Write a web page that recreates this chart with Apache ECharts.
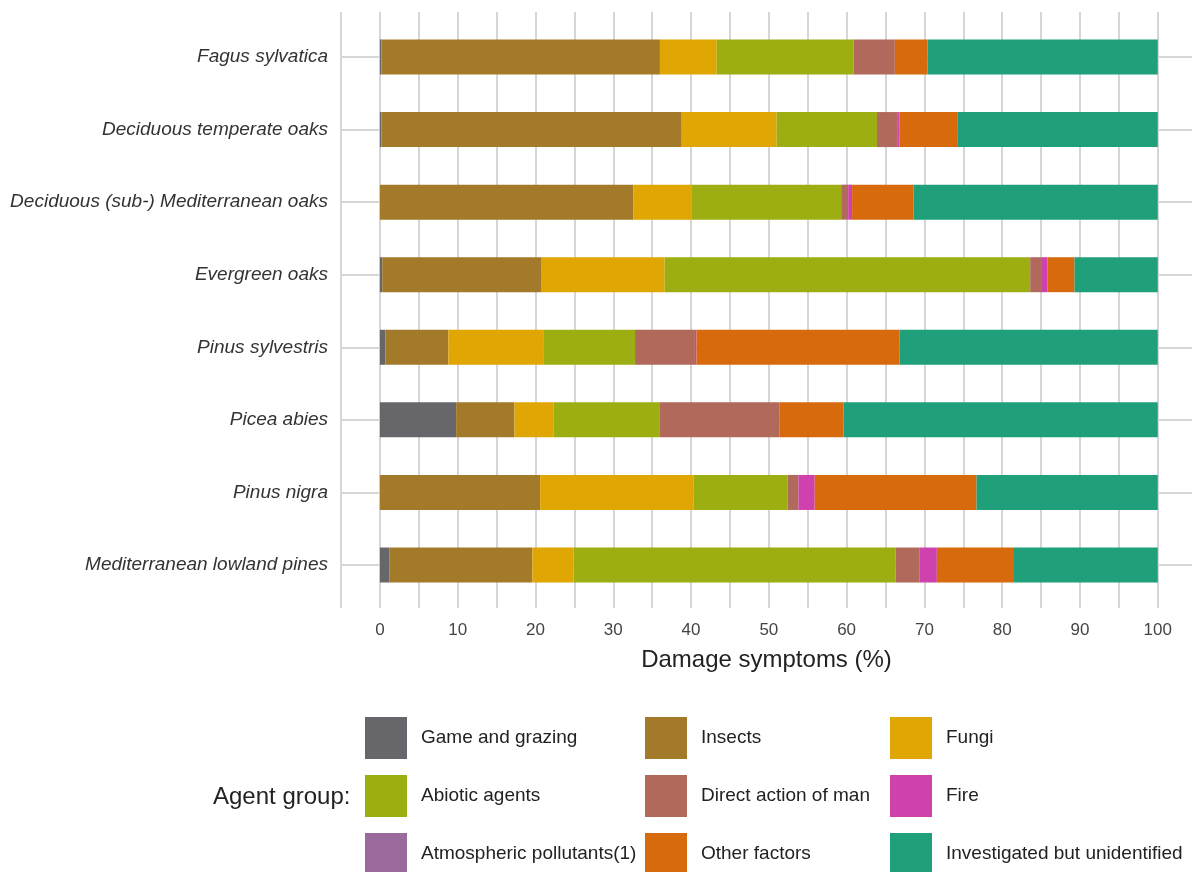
<!DOCTYPE html>
<html>
<head>
<meta charset="utf-8">
<script src="https://cdn.jsdelivr.net/npm/echarts@6/dist/echarts.min.js"></script>
<style>
    html, body { margin: 0; padding: 0; background: #fff; }
    #chart { width: 1193px; height: 872px; }
</style>
</head>
<body>
<div id="chart"></div>
<script>
    // species, top to bottom
    var categories = ['Fagus sylvatica', 'Deciduous temperate oaks', 'Deciduous (sub-) Mediterranean oaks',
        'Evergreen oaks', 'Pinus sylvestris', 'Picea abies', 'Pinus nigra', 'Mediterranean lowland pines'];

    // damage symptoms (%) per agent group, same order as categories
    var gameGrazing   = [0.2, 0.2, 0, 0.3, 0.7, 9.8, 0, 1.2];
    var insects       = [35.8, 38.6, 32.6, 20.5, 8.1, 7.5, 20.6, 18.4];
    var fungi         = [7.3, 12.2, 7.5, 15.8, 12.2, 5.0, 19.7, 5.3];
    var abiotic       = [17.6, 12.9, 19.2, 47.0, 11.8, 13.7, 12.1, 41.4];
    var directMan     = [5.3, 2.6, 0.9, 1.4, 7.7, 15.4, 1.4, 3.1];
    var fire          = [0, 0.3, 0.5, 0.8, 0.2, 0, 2.1, 2.2];
    var atmospheric   = [0, 0, 0, 0, 0, 0, 0, 0];
    var otherFactors  = [4.2, 7.5, 7.9, 3.5, 26.1, 8.2, 20.8, 9.8];
    var unidentified  = [29.6, 25.7, 31.4, 10.7, 33.2, 40.4, 23.3, 18.6];

    var xTickLabels = [0, 10, 20, 30, 40, 50, 60, 70, 80, 90, 100];

    var groups = [
        { name: 'Game and grazing', data: gameGrazing, color: '#67676b' },
        { name: 'Insects', data: insects, color: '#a37a2a' },
        { name: 'Fungi', data: fungi, color: '#e0a604' },
        { name: 'Abiotic agents', data: abiotic, color: '#9cae12' },
        { name: 'Direct action of man', data: directMan, color: '#b1695c' },
        { name: 'Fire', data: fire, color: '#cf42ad' },
        { name: 'Atmospheric pollutants(1)', data: atmospheric, color: '#9a6a9c' },
        { name: 'Other factors', data: otherFactors, color: '#d76a0d' },
        { name: 'Investigated but unidentified', data: unidentified, color: '#1fa07a' }
    ];

    var gridColor = '#d6d6d6';
    var font = '"Liberation Sans", Arial, sans-serif';

    var chart = echarts.init(document.getElementById('chart'));

    var series = groups.map(function (g) {
        return {
            name: g.name,
            type: 'bar',
            stack: 'total',
            xAxisIndex: 1,
            yAxisIndex: 1,
            barWidth: 35,
            data: g.data,
            itemStyle: { color: g.color },
            emphasis: { disabled: true }
        };
    });

    // one legend per column so the columns line up like the original
    function legendCol(left, names) {
        return {
            orient: 'vertical',
            left: left,
            top: 717,
            height: 170,
            padding: 0,
            itemWidth: 42,
            itemHeight: 42,
            itemGap: 16,
            icon: 'rect',
            selectedMode: false,
            data: names,
            textStyle: { fontSize: 19, color: '#222', fontFamily: font, padding: [0, 0, 0, 9] }
        };
    }

    var option = {
        backgroundColor: '#fff',
        animation: false,
        title: {
            text: 'Agent group:',
            left: 213,
            top: 785,
            padding: 0,
            textStyle: { fontSize: 24, fontWeight: 'normal', color: '#222', fontFamily: font }
        },
        legend: [
            legendCol(365, ['Game and grazing', 'Abiotic agents', 'Atmospheric pollutants(1)']),
            legendCol(645, ['Insects', 'Direct action of man', 'Other factors']),
            legendCol(890, ['Fungi', 'Fire', 'Investigated but unidentified'])
        ],
        grid: [
            { left: 341, right: 1, top: 12, height: 596 },
            { left: 341, right: 1, top: 20.7, height: 580.6 }
        ],
        xAxis: [{
            gridIndex: 0,
            type: 'value',
            min: -5,
            max: 104.4,
            interval: 5,
            axisLine: { show: false },
            axisTick: { show: false },
            splitLine: { show: true, showMaxLine: false, lineStyle: { color: gridColor, width: 2 } },
            axisLabel: {
                margin: 14,
                fontSize: 17,
                color: '#444',
                fontFamily: font,
                showMaxLabel: false,
                formatter: function (v) {
                    return xTickLabels.indexOf(v) >= 0 ? String(v) : '';
                }
            },
            name: 'Damage symptoms (%)',
            nameLocation: 'middle',
            nameGap: 40,
            nameTextStyle: { fontSize: 24, color: '#222', fontFamily: font }
        }, {
            gridIndex: 1,
            type: 'value',
            min: -5,
            max: 104.4,
            show: false
        }],
        yAxis: [{
            gridIndex: 0,
            type: 'value',
            show: false,
            splitLine: { show: false }
        }, {
            gridIndex: 1,
            type: 'category',
            inverse: true,
            data: categories,
            axisLine: { show: false },
            axisTick: { show: false },
            splitLine: { show: true, alignWithLabel: true, lineStyle: { color: gridColor, width: 2 } },
            axisLabel: {
                margin: 13,
                fontSize: 19,
                fontStyle: 'italic',
                color: '#333',
                fontFamily: font
            }
        }],
        series: series
    };

    chart.setOption(option);
</script>
</body>
</html>
